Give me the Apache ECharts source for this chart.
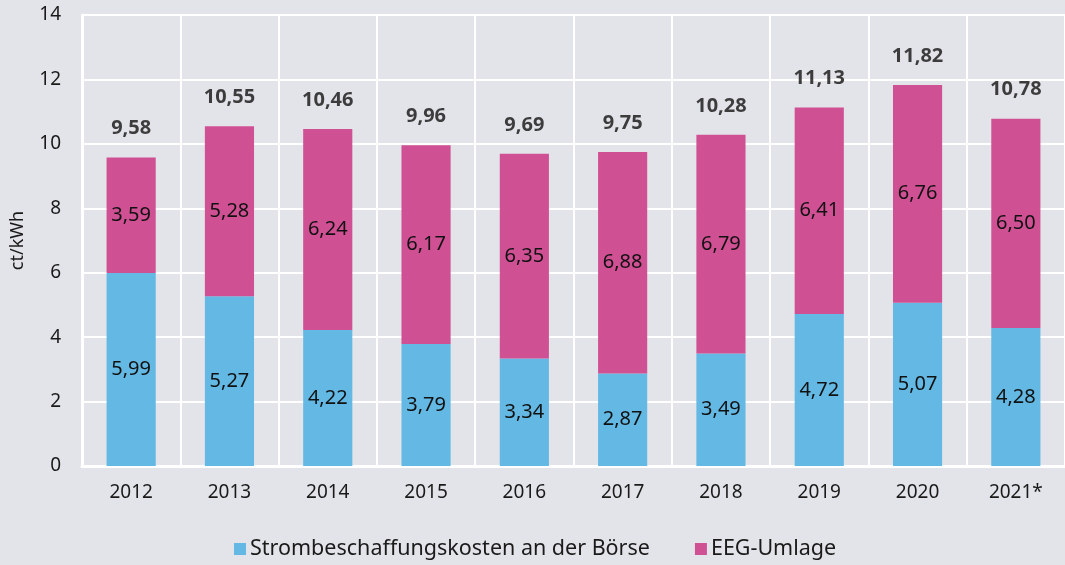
<!DOCTYPE html>
<html>
<head>
<meta charset="utf-8">
<script src="https://cdn.jsdelivr.net/npm/echarts@6/dist/echarts.min.js"></script>
<style>
  html, body { margin: 0; padding: 0; background: #e3e4e9; }
  #chart { width: 1065px; height: 565px; }
</style>
</head>
<body>
<div id="chart"></div>
<script>
const years = ["2012", "2013", "2014", "2015", "2016", "2017", "2018", "2019", "2020", "2021*"];
const boerse = [5.99, 5.27, 4.22, 3.79, 3.34, 2.87, 3.49, 4.72, 5.07, 4.28];
const eeg = [3.59, 5.28, 6.24, 6.17, 6.35, 6.88, 6.79, 6.41, 6.76, 6.50];
const totals = [9.58, 10.55, 10.46, 9.96, 9.69, 9.75, 10.28, 11.13, 11.82, 10.78];

const fontFamily = "Noto Sans";
const comma = (v) => v.toFixed(2).replace(".", ",");

const chart = echarts.init(document.getElementById("chart"), null, { renderer: "canvas" });

chart.setOption({
  backgroundColor: "#e3e4e9",
  animation: false,
  textStyle: { fontFamily, color: "#1a1a1a" },
  grid: { left: 82, right: 0, top: 15, bottom: 99 },
  legend: {
    bottom: 0,
    left: 229,
    icon: "rect",
    itemWidth: 12,
    itemHeight: 12,
    itemGap: 45,
    textStyle: { fontSize: 21.5, color: "#1a1a1a", fontFamily, padding: [0, 0, 0, -1] },
    data: ["Strombeschaffungskosten an der Börse", "EEG-Umlage"],
  },
  xAxis: {
    type: "category",
    data: years,
    axisTick: { show: false },
    axisLine: { lineStyle: { color: "#ffffff", width: 3 } },
    axisLabel: { fontSize: 19, color: "#1a1a1a", margin: 17 },
    splitLine: { show: true, lineStyle: { color: "#ffffff", width: 2 } },
  },
  yAxis: {
    type: "value",
    min: 0,
    max: 14,
    interval: 2,
    name: "ct/kWh",
    nameLocation: "middle",
    nameGap: 55,
    nameTextStyle: { fontSize: 18, color: "#1a1a1a" },
    axisLine: { show: true, lineStyle: { color: "#ffffff", width: 3 } },
    axisTick: { show: false },
    axisLabel: { fontSize: 19, color: "#1a1a1a", margin: 21 },
    splitLine: { lineStyle: { color: "#ffffff", width: 2 } },
  },
  series: [
    {
      name: "Strombeschaffungskosten an der Börse",
      type: "bar",
      stack: "total",
      barWidth: "50%",
      data: boerse,
      itemStyle: { color: "#63b8e4" },
      label: {
        show: true,
        position: "inside",
        fontSize: 20,
        color: "#111111",
        formatter: (p) => comma(p.value),
      },
    },
    {
      name: "EEG-Umlage",
      type: "bar",
      stack: "total",
      barWidth: "50%",
      data: eeg,
      itemStyle: { color: "#d05094" },
      label: {
        show: true,
        position: "inside",
        fontSize: 20,
        color: "#111111",
        formatter: (p) => comma(p.value),
      },
    },
    {
      name: "Summe",
      type: "scatter",
      data: totals,
      symbolSize: 0,
      silent: true,
      label: {
        show: true,
        position: "top",
        distance: 19,
        fontSize: 20,
        fontWeight: "bold",
        color: "#111111",
        formatter: (p) => comma(p.value),
      },
    },
  ],
});
</script>
</body>
</html>
